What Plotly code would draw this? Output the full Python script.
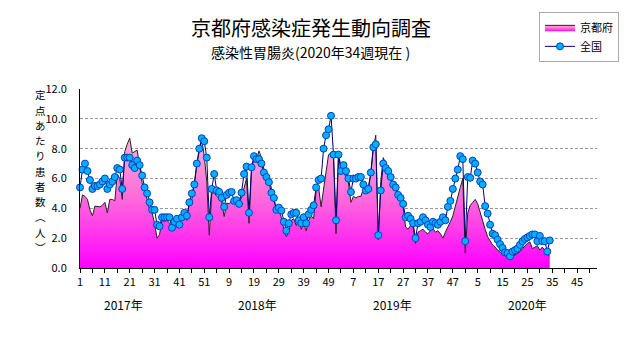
import plotly.graph_objects as go

# ---------------- data ----------------
kyoto = [
    4.0, 4.9, 4.8, 4.6, 3.9, 3.5, 4.15, 4.1, 4.1, 4.2,
    4.4, 3.7, 4.6, 4.6, 4.5, 6.3, 6.0, 4.6, 7.8, 8.3,
    8.7, 7.7, 7.8, 7.9, 6.8, 5.7, 5.1, 4.6, 3.9, 3.7,
    3.0, 2.0, 2.25, 3.2, 3.1, 3.2, 3.0, 2.7, 3.1, 2.9,
    3.3, 3.6, 3.5, 3.2, 4.4, 4.6, 5.7, 6.8, 8.1, 8.6,
    7.5, 5.8, 2.2, 5.0, 5.05, 4.8, 4.7, 4.4, 3.45, 4.35,
    4.3, 4.5, 4.3, 4.5, 4.4, 4.7, 5.4, 6.0, 3.0, 6.5,
    7.4, 7.25, 7.85, 7.4, 6.6, 6.15, 5.8, 5.4, 4.7, 3.85,
    3.85, 3.4, 2.6, 2.1, 2.4, 3.2, 3.3, 2.85, 3.2, 2.6,
    2.95, 2.5, 3.2, 3.5, 3.3, 5.2, 5.4, 4.1, 5.3, 6.5,
    7.6, 7.7, 7.5, 2.3, 7.6, 6.8, 6.5, 6.1, 5.7, 4.4,
    4.8, 4.7, 4.8, 4.8, 5.3, 5.0, 5.4, 6.3, 8.0, 8.9,
    1.9, 5.8, 7.4, 7.0, 6.4, 6.0, 5.6, 5.3, 4.8, 4.5,
    4.1, 2.75, 2.6, 2.85, 2.75, 1.65, 2.4, 2.5, 2.6, 2.4,
    2.3, 2.5, 2.65, 2.4, 2.5, 2.3, 2.0, 2.4, 2.7, 3.1,
    3.5, 4.2, 4.8, 5.4, 6.0, 1.0, 3.7, 4.2, 4.4, 4.6,
    4.3, 3.7, 3.1, 2.6, 2.1, 1.85, 1.55, 1.4, 1.2, 1.1,
    0.9, 0.85, 0.7, 0.55, 0.75, 0.85, 0.95, 1.1, 1.3, 1.5,
    1.65, 1.75, 1.3, 1.4, 1.5, 1.2, 1.4, 1.2, 0.9, 0.8,
]

zenkoku = [
    5.4, 6.6, 7.0, 6.5, 5.9, 5.3, 5.5, 5.5, 5.6, 5.8,
    6.0, 5.3, 5.6, 5.8, 6.1, 6.7, 6.6, 5.3, 7.4, 7.4,
    7.4, 6.9, 6.7, 7.2, 6.9, 6.2, 5.4, 5.0, 4.4, 3.9,
    3.9, 2.9, 2.8, 3.4, 3.4, 3.4, 3.4, 2.7, 3.1, 3.3,
    2.9, 3.4, 3.7, 3.5, 4.4, 5.0, 5.6, 7.0, 8.0, 8.7,
    8.5, 7.4, 3.4, 5.3, 6.3, 5.2, 5.1, 4.7, 4.1, 4.9,
    5.05, 5.1, 4.5, 4.55, 4.3, 5.05, 6.3, 6.8, 3.7, 6.75,
    7.5, 7.3, 7.3, 7.0, 6.4, 6.1, 5.75, 5.05, 4.7, 3.9,
    4.05, 3.85, 3.1, 2.5, 3.0, 3.6, 3.7, 3.7, 3.2, 3.0,
    3.4, 3.0, 3.6, 3.9, 4.2, 5.4, 5.9, 6.0, 8.0, 8.9,
    9.3, 10.2, 7.6, 3.2, 7.6, 6.5, 6.9, 6.5, 6.0, 5.1,
    6.0, 6.0, 6.1, 6.1, 5.6, 5.2, 5.3, 6.4, 8.1, 8.3,
    2.2, 5.2, 7.0, 6.7, 6.5, 6.1, 5.6, 5.4, 4.9, 4.7,
    4.3, 3.4, 3.5, 3.3, 3.0, 2.0, 3.0, 3.1, 3.4, 3.2,
    2.9, 2.75, 3.1, 3.0, 2.9, 3.1, 3.4, 3.2, 4.1, 4.5,
    5.3, 6.0, 6.6, 7.5, 7.3, 1.8, 6.1, 6.05, 7.2, 7.0,
    6.4, 5.8, 5.6, 4.15, 3.65, 2.9, 2.3, 2.2, 1.9, 1.6,
    1.35, 1.05, 1.0, 0.78, 1.1, 1.2, 1.3, 1.55, 1.8, 1.95,
    2.05, 2.15, 2.25, 2.25, 1.8, 2.15, 1.8, 1.8, 1.1, 1.85,
]

years = ["2017", "2018", "2019", "2020"]
weeks_per_year = [52, 52, 52, 53]
year_labels = ["2017年", "2018年", "2019年", "2020年"]
tick_labels = ["1", "11", "21", "31", "41", "51", "9", "19", "29", "39", "49",
               "7", "17", "27", "37", "47", "5", "15", "25", "35", "45"]
title_text = "京都府感染症発生動向調査"
subtitle_text = "感染性胃腸炎(2020年34週現在 )"
ytitle_chars = ["定", "点", "あ", "た", "り", "患", "者", "数", "︵", "人", "︶"]
series_names = ["京都府", "全国"]

# ---------------- layout geometry ----------------
W, H = 631, 347
L, R, T, B = 80, 597, 87, 268   # plot area in pixels
XMAX = 208

def px_x(px):
    return (px - L) / (R - L)

def px_y(py):
    return (B - py) / (B - T)

x_idx = list(range(len(kyoto)))
FONT = "Noto Sans CJK JP"

fig = go.Figure()

fig.add_trace(go.Scatter(
    x=x_idx, y=kyoto, name=series_names[0], mode="lines",
    line=dict(color="#222222", width=1),
    fill="tozeroy",
    fillgradient=dict(type="vertical", start=0, stop=9,
                      colorscale=[[0, "#FF00FF"], [0.5, "#FF66DD"], [1, "#F5B8D8"]]),
))

fig.add_trace(go.Scatter(
    x=x_idx, y=zenkoku, name=series_names[1], mode="lines+markers",
    line=dict(color="#000080", width=1),
    marker=dict(symbol="circle", size=7, color="#00B0FF",
                line=dict(color="#0040C0", width=1)),
    cliponaxis=False,
))

tickvals = list(range(0, XMAX, 5))
ticktext = [tick_labels[v // 10] if v % 10 == 0 else "" for v in tickvals]

fig.update_xaxes(
    range=[0, XMAX], showgrid=False, zeroline=False,
    showline=True, linecolor="black", linewidth=1,
    tickmode="array", tickvals=tickvals, ticktext=ticktext,
    ticks="outside", ticklen=4, tickcolor="black", tickwidth=1,
    tickfont=dict(family=FONT, size=11, color="black"),
)
fig.update_yaxes(
    range=[0, 12], dtick=2, tick0=0, tickformat=".1f",
    showgrid=True, gridcolor="#999999", griddash="3px,2px", gridwidth=1,
    zeroline=False, showline=True, linecolor="black", linewidth=1,
    ticks="", ticklabelstandoff=10,
    tickfont=dict(family=FONT, size=11, color="black"),
)

annotations = []
annotations.append(dict(text=title_text, x=px_x(311), y=px_y(25), xref="paper", yref="paper",
                        showarrow=False, xanchor="center", yanchor="middle",
                        font=dict(family=FONT, size=20, color="black")))
annotations.append(dict(text=subtitle_text, x=px_x(310), y=px_y(50), xref="paper", yref="paper",
                        showarrow=False, xanchor="center", yanchor="middle",
                        font=dict(family=FONT, size=14, color="black")))

# vertical (stacked, upright) y-axis title: one character per annotation
CH_STEP = 15.4
for k, ch in enumerate(ytitle_chars):
    annotations.append(dict(text=ch, x=px_x(40), y=px_y(93 + CH_STEP * k),
                            xref="paper", yref="paper", showarrow=False,
                            xanchor="center", yanchor="middle",
                            font=dict(family=FONT, size=10.5, color="black")))

year_px = [123, 257, 392, 527]
for lab, xp in zip(year_labels, year_px):
    annotations.append(dict(text=lab, x=px_x(xp), y=px_y(305), xref="paper", yref="paper",
                            showarrow=False, xanchor="center", yanchor="middle",
                            font=dict(family=FONT, size=12, color="black")))

fig.update_layout(
    width=W, height=H, autosize=False,
    margin=dict(l=L, r=W - R, t=T, b=H - B, pad=0),
    paper_bgcolor="white", plot_bgcolor="white",
    showlegend=True,
    legend=dict(x=px_x(619), y=px_y(9), xanchor="right", yanchor="top",
                bgcolor="white", bordercolor="#AAAAAA", borderwidth=1,
                font=dict(family=FONT, size=11, color="black"),
                itemwidth=30, tracegroupgap=0),
    annotations=annotations,
)

fig.write_html("out.html")
